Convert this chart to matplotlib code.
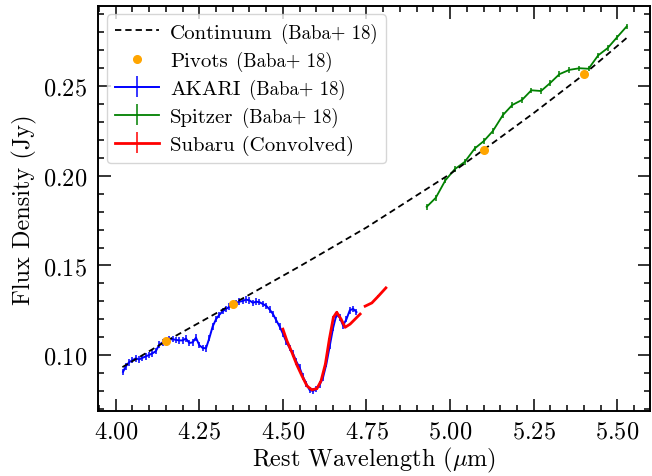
import numpy as np
import matplotlib
matplotlib.use("Agg")
import matplotlib.pyplot as plt
from matplotlib.ticker import MultipleLocator
from matplotlib.offsetbox import TextArea, HPacker

plt.rcParams['font.family'] = 'serif'
plt.rcParams['font.serif'] = ['cmr10']
plt.rcParams['mathtext.fontset'] = 'cm'
plt.rcParams['axes.formatter.use_mathtext'] = True
plt.rcParams['axes.unicode_minus'] = False

# ---- data ----
cont_x = [4.02, 4.15, 4.35, 4.55, 4.75, 5.00, 5.10, 5.25, 5.40, 5.53]
cont_y = [0.0933, 0.1077, 0.1285, 0.1495, 0.1712, 0.2010, 0.2145, 0.2350, 0.2565, 0.2772]

pivot_x = [4.15, 4.35, 5.10, 5.40]
pivot_y = [0.1077, 0.1285, 0.2145, 0.2566]

akari_x = [4.022, 4.030, 4.040, 4.050, 4.060, 4.070, 4.080, 4.090, 4.100, 4.110,
           4.120, 4.130, 4.140, 4.150, 4.160, 4.170, 4.180, 4.190, 4.200, 4.210,
           4.220, 4.230, 4.240, 4.250, 4.260, 4.270, 4.280, 4.290, 4.300, 4.310,
           4.320, 4.330, 4.340, 4.350, 4.360, 4.370, 4.380, 4.390, 4.400, 4.410,
           4.420, 4.430, 4.440, 4.450, 4.460, 4.470, 4.480, 4.490, 4.500, 4.510,
           4.520, 4.530, 4.540, 4.550, 4.560, 4.570, 4.580, 4.590, 4.600, 4.610,
           4.620, 4.630, 4.640, 4.650, 4.660, 4.670, 4.680, 4.690, 4.700, 4.710,
           4.720]
akari_y = [0.0907, 0.0937, 0.0960, 0.0972, 0.0982, 0.0976, 0.0985, 0.0993, 0.1001, 0.1010,
           0.1022, 0.1058, 0.1071, 0.1078, 0.1086, 0.1089, 0.1085, 0.1082, 0.1082, 0.1092,
           0.1068, 0.1071, 0.1097, 0.1055, 0.1040, 0.1038, 0.1095, 0.1160, 0.1200, 0.1225,
           0.1245, 0.1257, 0.1270, 0.1282, 0.1292, 0.1298, 0.1302, 0.1310, 0.1305, 0.1292,
           0.1298, 0.1295, 0.1285, 0.1275, 0.1255, 0.1230, 0.1195, 0.1160, 0.1120, 0.1075,
           0.1040, 0.1010, 0.0965, 0.0930, 0.0880, 0.0840, 0.0805, 0.0800, 0.0812, 0.0835,
           0.0875, 0.0950, 0.1050, 0.1150, 0.1225, 0.1210, 0.1165, 0.1200, 0.1250, 0.1258,
           0.1240]
akari_err = [0.0018] * len(akari_x)

spitzer_x = [4.930, 4.957, 4.986, 5.014, 5.044, 5.074, 5.101, 5.128, 5.158, 5.186,
             5.215, 5.243, 5.272, 5.299, 5.327, 5.357, 5.387, 5.414, 5.443, 5.471,
             5.499, 5.528]
spitzer_y = [0.1827, 0.1877, 0.1975, 0.2037, 0.2078, 0.2153, 0.2194, 0.2250, 0.2339, 0.2395,
             0.2423, 0.2477, 0.2473, 0.2517, 0.2567, 0.2591, 0.2600, 0.2597, 0.2672, 0.2712,
             0.2772, 0.2833]
spitzer_err = [0.0015] * len(spitzer_x)

subaru_x = [4.500, 4.512, 4.527, 4.542, 4.557, 4.572, 4.587, 4.602, 4.614, 4.627,
            4.639, 4.651, 4.661, 4.674, 4.686, 4.701, 4.716, 4.731, np.nan, 4.746,
            4.766, 4.785, 4.808]
subaru_y = [0.1145, 0.1080, 0.1015, 0.0944, 0.0884, 0.0828, 0.0806, 0.0814, 0.0856, 0.0950,
            0.1090, 0.1211, 0.1239, 0.1201, 0.1155, 0.1173, 0.1201, 0.1229, np.nan, 0.1273,
            0.1291, 0.1328, 0.1375]
subaru_err = [0.0006] * len(subaru_x)

labels = ["Continuum", "Pivots", "AKARI", "Spitzer", "Subaru (Convolved)"]
tails = ["(Baba+ 18)", "(Baba+ 18)", "(Baba+ 18)", "(Baba+ 18)", ""]

# ---- figure ----
fig = plt.figure(figsize=(6.52, 4.77), dpi=100)
ax = fig.add_axes([0.1508, 0.1369, 0.8462, 0.8484])

ax.plot(cont_x, cont_y, color='k', ls='--', lw=1.3, dashes=(3.5, 2.2),
        label=labels[0], zorder=3)
ax.plot(pivot_x, pivot_y, 'o', color='orange', ms=5.5, ls='none',
        label=labels[1], zorder=6)
ax.errorbar(akari_x, akari_y, yerr=akari_err, color='blue', lw=1.4,
            elinewidth=1.1, capsize=0, label=labels[2], zorder=2)
ax.errorbar(spitzer_x, spitzer_y, yerr=spitzer_err, color='green', lw=1.3,
            elinewidth=1.1, capsize=0, label=labels[3], zorder=2)
ax.errorbar(subaru_x, subaru_y, yerr=subaru_err, color='red', lw=2.0,
            elinewidth=1.1, capsize=0, label=labels[4], zorder=4)

ax.set_xlim(3.948, 5.598)
ax.set_ylim(0.0690, 0.2947)
ax.xaxis.set_major_locator(MultipleLocator(0.25))
ax.xaxis.set_minor_locator(MultipleLocator(0.05))
ax.yaxis.set_major_locator(MultipleLocator(0.05))
ax.yaxis.set_minor_locator(MultipleLocator(0.01))

ax.tick_params(which='both', direction='in', top=True, right=True,
               labelsize=17.5, width=1.1)
ax.tick_params(which='major', length=9, pad=8)
ax.tick_params(axis='x', which='major', pad=7)
ax.tick_params(which='minor', length=4.5)
for s in ax.spines.values():
    s.set_linewidth(1.4)

ax.set_xlabel(r"Rest Wavelength ($\mu$m)", fontsize=17.5, labelpad=2)
ax.set_ylabel("Flux Density (Jy)", fontsize=17.5, labelpad=4)

leg = ax.legend(loc='upper left', fontsize=15, handlelength=2.1,
                handletextpad=0.55, labelspacing=0.38, borderpad=0.4,
                borderaxespad=0.4, framealpha=0.8, edgecolor='0.8', fancybox=True)

items = [it for col in leg._legend_handle_box.get_children() for it in col.get_children()]
for it, tail in zip(items, tails):
    if tail:
        ch = it.get_children()
        ta = TextArea(tail, textprops=dict(fontsize=13.5, color='k', family='serif'))
        inner = HPacker(children=[ch[1], ta], sep=6, pad=0, align='baseline')
        inner.set_figure(fig)
        ch[1] = inner

fig.savefig("out.png", dpi=100)
